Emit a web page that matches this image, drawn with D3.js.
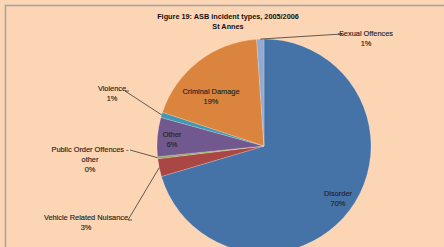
<!DOCTYPE html>
<html>
<head>
<meta charset="utf-8">
<script src="https://cdn.jsdelivr.net/npm/d3@7"></script>
<style>
  html, body { margin: 0; padding: 0; background: #fcd5b4; }
  svg { display: block; font-family: 'Liberation Sans', Arial, sans-serif; }
</style>
</head>
<body>
<div id="chart"></div>
<script>
// ASB incident types, St Annes 2005/2006 (share of incidents, %)
const categories = ['Disorder', 'Vehicle Related Nuisance', 'Public Order Offences - other',
  'Other', 'Violence', 'Criminal Damage', 'Sexual Offences']
const values = [70.4, 2.7, 0.3, 5.9, 0.8, 18.8, 1.1]
const palette = ['#4572a7', '#aa4643', '#89a54e', '#71588f', '#4198af', '#db843d', '#93a9cf']

const width = 444
const height = 247
const cx = 264
const cy = 146
const radius = 107

// label placement (centre of first text line), leader end and elbow where the label sits outside
const labelLayout = {
  'Disorder': { x: 338, y: 193 },
  'Vehicle Related Nuisance': { x: 86, y: 217, lead: [132, 220], elbow: [128, 220] },
  'Public Order Offences - other': { x: 90, y: 149, lines: ['Public Order Offences -', 'other'], lead: [130, 150] },
  'Other': { x: 172, y: 134 },
  'Violence': { x: 112, y: 88, lead: [129, 91], elbow: [125, 91] },
  'Criminal Damage': { x: 211, y: 91 },
  'Sexual Offences': { x: 366, y: 33, lead: [338, 34], elbow: [342, 34] },
}

const data = categories.map((c, i) => ({ label: c, value: values[i] }))

const svg = d3.select('#chart').append('svg')
  .attr('width', width)
  .attr('height', height)
  .attr('viewBox', `0 0 ${width} ${height}`)

svg.append('rect').attr('width', width).attr('height', height).attr('fill', '#fcd5b4')
svg.append('rect')
  .attr('x', 5.5).attr('y', 5.5)
  .attr('width', width + 20).attr('height', height + 20)
  .attr('fill', 'none').attr('stroke', '#a5a5a5').attr('stroke-width', 1.6)

const title = svg.append('text')
  .attr('x', 228).attr('text-anchor', 'middle')
  .attr('font-weight', 'bold').attr('font-size', 7.3).attr('fill', '#111')
title.append('tspan').attr('x', 228).attr('y', 18.5).text('Figure 19:  ASB incident types, 2005/2006')
title.append('tspan').attr('x', 228).attr('y', 29).text('St Annes')

const pie = d3.pie().sort(null).value((d) => d.value)
const arc = d3.arc().innerRadius(0).outerRadius(radius)
const arcs = pie(data)

const g = svg.append('g').attr('transform', `translate(${cx},${cy})`)
g.selectAll('path').data(arcs).join('path')
  .attr('d', arc)
  .attr('fill', (_, i) => palette[i])
  .attr('stroke', '#ffffff').attr('stroke-opacity', 0.35).attr('stroke-width', 0.6)

const fmt = (v) => `${Math.round(v)}%`

arcs.forEach((a) => {
  const lay = labelLayout[a.data.label]
  const lines = (lay.lines || [a.data.label]).concat([fmt(a.data.value)])
  const t = svg.append('text')
    .attr('text-anchor', 'middle').attr('font-size', 7.4).attr('fill', '#262626')
    .attr('stroke', '#262626').attr('stroke-width', 0.15)
  lines.forEach((ln, k) => {
    t.append('tspan').attr('x', lay.x).attr('y', lay.y + 2.5 + k * 10).text(ln)
  })
  if (lay.lead) {
    const mid = (a.startAngle + a.endAngle) / 2
    const px = cx + radius * Math.sin(mid)
    const py = cy - radius * Math.cos(mid)
    const pts = [lay.lead]
    if (lay.elbow) pts.push(lay.elbow)
    pts.push([px, py])
    svg.append('path')
      .attr('d', d3.line()(pts))
      .attr('fill', 'none').attr('stroke', '#222').attr('stroke-width', 0.7)
  }
})
</script>
</body>
</html>
